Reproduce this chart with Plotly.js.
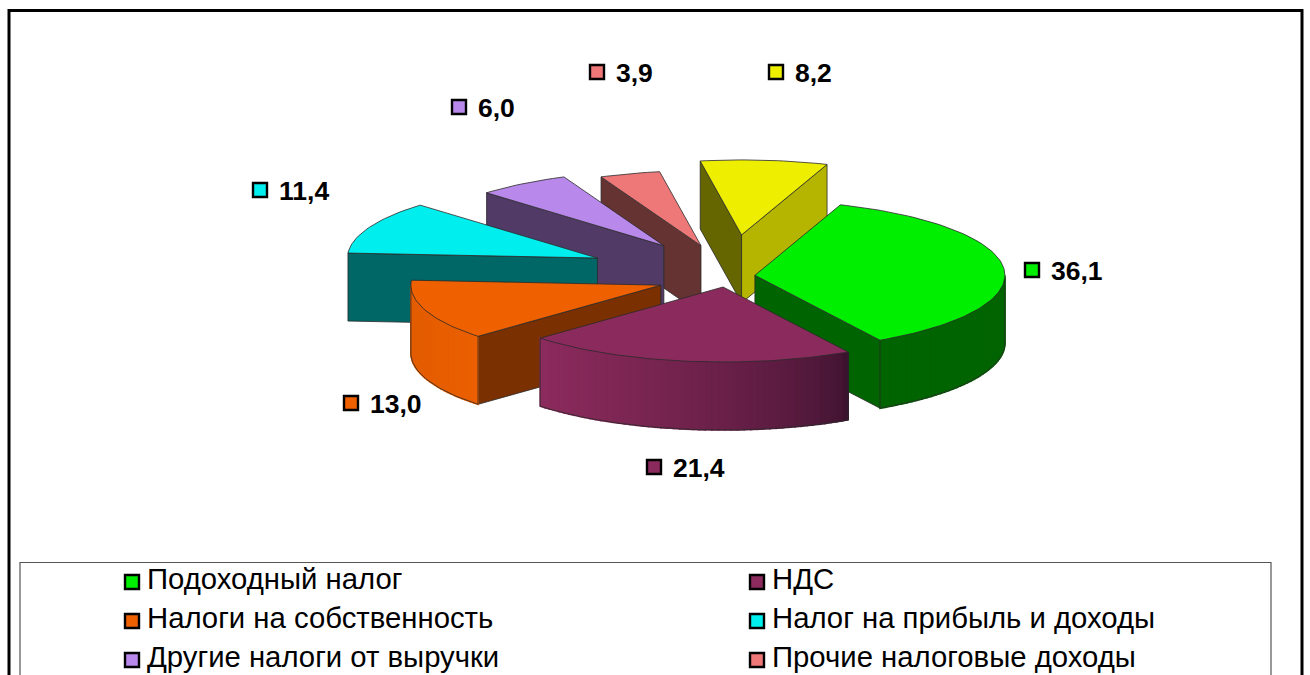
<!DOCTYPE html>
<html>
<head>
<meta charset="utf-8">
<script src="https://cdn.plot.ly/plotly-3.0.1.min.js"></script>
<style>html,body{margin:0;padding:0;background:#fff}#chart{width:1310px;height:675px}</style>
</head>
<body>
<div id="chart"></div>
<script>
// Data, clockwise from the first slice
const sliceNames = ["Подоходный налог","НДС","Налоги на собственность","Налог на прибыль и доходы","Другие налоги от выручки","Прочие налоговые доходы",""];
const sliceValues = [36.1,21.4,13.0,11.4,6.0,3.9,8.2];
const sliceExplode = [0.108,0.135,0.285,0.582,0.49,0.45,0.55];
// Styles
const sliceNudgeX = [0,0,0,2,5,5,1];
const sliceNudgeY = [-2,-1,0,-2,-2,0,-2];
const topColors  = ["#00ee00","#8b2b5d","#ee6000","#00eeee","#b888ea","#ee7777","#eeee00"];
const startWall  = ["#006400","#5a1c3c","#7a3000","#006666","#523a66","#663333","#666600"];
const endWall    = ["#006400","#5a1c3c","#7a3000","#006666","#523a66","#663333","#b5b500"];
const arcFrom    = [[0,100,0],[60,18,46],[236,96,0],[0,100,100],[82,58,102],[102,51,51],[102,102,0]];
const arcTo      = [[0,100,0],[140,43,93],[226,92,0],[0,100,100],[82,58,102],[102,51,51],[181,181,0]];
const paintOrder = [6,5,4,3,2,0,1];
const labelMarkX = [1032,654,351,260,459,597,776];
const labelMarkY = [270,467,403,190,107,72,72];
const legendMarkX = [132,757,132,757,132,757];
const legendMarkY = [582,582,621,621,660,660];
const startAngle = 20, cx = 728, cy = 278, rx = 250, ry = 75, depth = 68;
const edge = "#2a2a2a";

const total = sliceValues.reduce((a,b)=>a+b,0);
const rad = d => d*Math.PI/180;
const pt = (c,a,dy=0) => [c[0]+rx*Math.sin(rad(a)), c[1]-ry*Math.cos(rad(a))+dy];
const traces = [];
function poly(pts,fill,line,w){
  traces.push({type:"scatter",mode:"lines",x:pts.map(p=>p[0]),y:pts.map(p=>p[1]),
    fill:"toself",fillcolor:fill,line:{color:line||fill,width:line?w:1.6},hoverinfo:"skip",showlegend:false});
}
function stroke(pts){
  traces.push({type:"scatter",mode:"lines",x:pts.map(p=>p[0]),y:pts.map(p=>p[1]),
    line:{color:edge,width:0.8},hoverinfo:"skip",showlegend:false});
}
let acc = startAngle;
const spans = sliceValues.map(v=>{const a=acc; acc+=v/total*360; return [a,acc];});
function drawSlice(i){
  const [a,b]=spans[i], mid=(a+b)/2, e=sliceExplode[i];
  const c=[cx+sliceNudgeX[i]+rx*e*Math.sin(rad(mid)), cy+sliceNudgeY[i]-ry*e*Math.cos(rad(mid))];
  const n=Math.max(2,Math.ceil((b-a)/1.5));
  const arc=[]; for(let k=0;k<=n;k++) arc.push(a+(b-a)*k/n);
  // radial walls that face the viewer
  const na=a%360, nb=b%360;
  if(na>180) { const p=pt(c,a); poly([c,p,[p[0],p[1]+depth],[c[0],c[1]+depth],c],startWall[i],edge,0.8); }
  if(nb<180) { const p=pt(c,b); poly([c,p,[p[0],p[1]+depth],[c[0],c[1]+depth],c],endWall[i],edge,0.8); }
  // outer wall, with its shading strips
  const front=arc.filter(t=>{const m=t%360; return m>=90&&m<=270;});
  if(front.length>1){
    for(let k=0;k<front.length-1;k++){
      const f=Math.pow(k/(front.length-2||1),0.6);
      const col=arcFrom[i].map((v,j)=>Math.round(v+(arcTo[i][j]-v)*f));
      const p1=pt(c,front[k]),p2=pt(c,front[k+1]);
      poly([p1,p2,[p2[0],p2[1]+depth],[p1[0],p1[1]+depth],p1],`rgb(${col.join(",")})`);
    }
    stroke(front.map(t=>pt(c,t,depth)));
    const l=pt(c,front[0]),r=pt(c,front[front.length-1]);
    stroke([l,[l[0],l[1]+depth]]); stroke([r,[r[0],r[1]+depth]]);
  }
  // top face
  poly([c].concat(arc.map(t=>pt(c,t))).concat([c]),topColors[i],edge,0.8);
}
paintOrder.forEach(drawSlice);

// value labels
traces.push({type:"scatter",mode:"markers",x:labelMarkX,y:labelMarkY,
  marker:{symbol:"square",size:14,color:topColors,line:{color:"#000",width:2.4}},hoverinfo:"skip",showlegend:false});
traces.push({type:"scatter",mode:"text",x:labelMarkX.map(v=>v+19),y:labelMarkY.map(v=>v+3),
  text:sliceValues.map(v=>v.toFixed(1).replace(".",",")),textposition:"middle right",
  textfont:{family:"Liberation Sans",size:26.5,color:"#000",weight:"bold"},hoverinfo:"skip",showlegend:false});
// legend
traces.push({type:"scatter",mode:"markers",x:legendMarkX,y:legendMarkY,
  marker:{symbol:"square",size:14,color:topColors.slice(0,6),line:{color:"#000",width:2.4}},hoverinfo:"skip",showlegend:false});
traces.push({type:"scatter",mode:"text",x:legendMarkX.map(v=>v+15),y:legendMarkY,
  text:sliceNames.slice(0,6),textposition:"middle right",
  textfont:{family:"Liberation Sans",size:29.3,color:"#000"},hoverinfo:"skip",showlegend:false});

const layout={width:1310,height:675,margin:{l:0,r:0,t:0,b:0},paper_bgcolor:"#fff",plot_bgcolor:"#fff",showlegend:false,
  xaxis:{range:[0,1310],visible:false,fixedrange:true},
  yaxis:{range:[675,0],visible:false,fixedrange:true},
  shapes:[
    {type:"rect",layer:"below",x0:9,x1:1302,y0:10.5,y1:720,line:{color:"#000",width:3},fillcolor:"rgba(0,0,0,0)"},
    {type:"rect",layer:"below",x0:20,x1:1271,y0:562.5,y1:720,line:{color:"#555",width:1.2},fillcolor:"rgba(0,0,0,0)"}
  ]};
Plotly.newPlot("chart",traces,layout,{displayModeBar:false,staticPlot:true});
</script>
</body>
</html>
